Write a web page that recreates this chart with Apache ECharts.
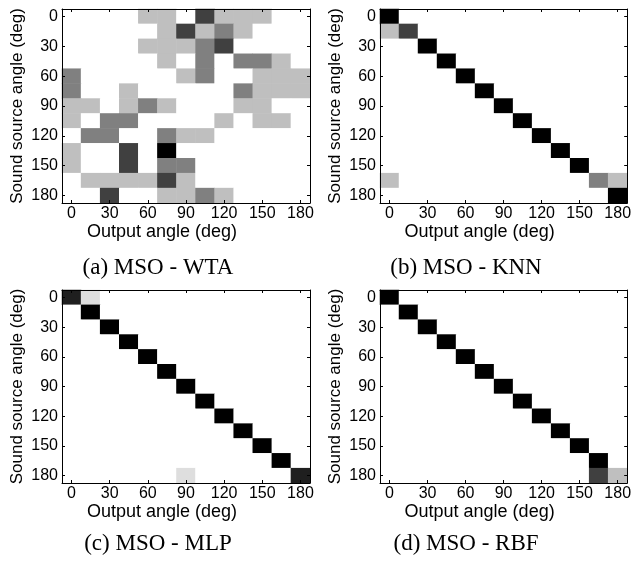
<!DOCTYPE html>
<html>
<head>
<meta charset="utf-8">
<script src="https://cdn.jsdelivr.net/npm/echarts@6/dist/echarts.min.js"></script>
<style>
html,body{margin:0;padding:0;background:#fff;}
#chart{width:634px;height:563px;}
</style>
</head>
<body>
<div id="chart"></div>
<script>
// Angle categories (deg)
const angles = ['0','15','30','45','60','75','90','105','120','135','150','165','180'];

// Confusion matrices: rows = sound source angle, columns = output angle (fraction, 0=white, 1=black)
const wtaRows = [
  [0,0,0,0,.25,.25,0,.75,.25,.25,.25,0,0],
  [0,0,0,0,0,.25,.75,.25,.5,.25,0,0,0],
  [0,0,0,0,.25,.25,.25,.5,.75,0,0,0,0],
  [0,0,0,0,0,.25,0,.5,0,.5,.5,.25,0],
  [.5,0,0,0,0,0,.25,.5,0,0,.25,.25,.25],
  [.5,0,0,.25,0,0,0,0,0,.5,.25,.25,.25],
  [.25,.25,0,.25,.5,.25,0,0,0,.25,.25,0,0],
  [.25,0,.5,.5,0,0,0,0,.25,0,.25,.25,0],
  [0,.5,.5,0,0,.5,.25,.25,0,0,0,0,0],
  [.25,0,0,.75,0,1,0,0,0,0,0,0,0],
  [.25,0,0,.75,0,.5,.5,0,0,0,0,0,0],
  [0,.25,.25,.25,.25,.75,.25,0,0,0,0,0,0],
  [0,0,.75,0,0,.25,.25,.5,.25,0,0,0,0]
];
const knnRows = [
  [1,0,0,0,0,0,0,0,0,0,0,0,0],
  [.25,.75,0,0,0,0,0,0,0,0,0,0,0],
  [0,0,1,0,0,0,0,0,0,0,0,0,0],
  [0,0,0,1,0,0,0,0,0,0,0,0,0],
  [0,0,0,0,1,0,0,0,0,0,0,0,0],
  [0,0,0,0,0,1,0,0,0,0,0,0,0],
  [0,0,0,0,0,0,1,0,0,0,0,0,0],
  [0,0,0,0,0,0,0,1,0,0,0,0,0],
  [0,0,0,0,0,0,0,0,1,0,0,0,0],
  [0,0,0,0,0,0,0,0,0,1,0,0,0],
  [0,0,0,0,0,0,0,0,0,0,1,0,0],
  [.25,0,0,0,0,0,0,0,0,0,0,.5,.25],
  [0,0,0,0,0,0,0,0,0,0,0,0,1]
];
const mlpRows = [
  [.88,.13,0,0,0,0,0,0,0,0,0,0,0],
  [0,1,0,0,0,0,0,0,0,0,0,0,0],
  [0,0,1,0,0,0,0,0,0,0,0,0,0],
  [0,0,0,1,0,0,0,0,0,0,0,0,0],
  [0,0,0,0,1,0,0,0,0,0,0,0,0],
  [0,0,0,0,0,1,0,0,0,0,0,0,0],
  [0,0,0,0,0,0,1,0,0,0,0,0,0],
  [0,0,0,0,0,0,0,1,0,0,0,0,0],
  [0,0,0,0,0,0,0,0,1,0,0,0,0],
  [0,0,0,0,0,0,0,0,0,1,0,0,0],
  [0,0,0,0,0,0,0,0,0,0,1,0,0],
  [0,0,0,0,0,0,0,0,0,0,0,1,0],
  [0,0,0,0,0,0,.13,0,0,0,0,0,.88]
];
const rbfRows = [
  [1,0,0,0,0,0,0,0,0,0,0,0,0],
  [0,1,0,0,0,0,0,0,0,0,0,0,0],
  [0,0,1,0,0,0,0,0,0,0,0,0,0],
  [0,0,0,1,0,0,0,0,0,0,0,0,0],
  [0,0,0,0,1,0,0,0,0,0,0,0,0],
  [0,0,0,0,0,1,0,0,0,0,0,0,0],
  [0,0,0,0,0,0,1,0,0,0,0,0,0],
  [0,0,0,0,0,0,0,1,0,0,0,0,0],
  [0,0,0,0,0,0,0,0,1,0,0,0,0],
  [0,0,0,0,0,0,0,0,0,1,0,0,0],
  [0,0,0,0,0,0,0,0,0,0,1,0,0],
  [0,0,0,0,0,0,0,0,0,0,0,1,0],
  [0,0,0,0,0,0,0,0,0,0,0,.75,.25]
];
const captions = ['(a) MSO - WTA','(b) MSO - KNN','(c) MSO - MLP','(d) MSO - RBF'];
const xTitle = 'Output angle (deg)';
const yTitle = 'Sound source angle (deg)';

const matrices = [wtaRows, knnRows, mlpRows, rbfRows];
const grids = [
  {left:62, top:9, width:248, height:194},
  {left:380, top:9, width:248, height:194},
  {left:62, top:290, width:248, height:193},
  {left:380, top:290, width:248, height:193}
];
const captionPos = [[158,268],[466,268],[158,544],[466,544]];

const sans = '"Liberation Sans", Arial, Helvetica, sans-serif';
const serif = '"Liberation Serif", "Times New Roman", serif';

const xAxes = [], yAxes = [], series = [], graphics = [];
matrices.forEach((m, i) => {
  const common = {
    type:'category', data: angles, gridIndex:i, z:5,
    axisLine:{show:true, onZero:false, lineStyle:{color:'#000', width:1}},
    axisTick:{show:true, inside:true, length:3, interval:1, alignWithLabel:true, lineStyle:{color:'#000'}},
    splitLine:{show:false}
  };
  xAxes.push(Object.assign({}, common, {
    position:'bottom',
    axisLabel:{show:true, interval:1, margin:3, color:'#000', fontSize:16, fontFamily:sans},
    name:xTitle, nameLocation:'middle', nameGap:18,
    nameTextStyle:{color:'#000', fontSize:18, fontFamily:sans, padding:[0,48,0,0]}
  }));
  xAxes.push(Object.assign({}, common, {position:'top', axisLabel:{show:false}}));
  yAxes.push(Object.assign({}, common, {
    position:'left', inverse:true,
    axisLabel:{show:true, interval:1, margin:4, color:'#000', fontSize:16, fontFamily:sans},
    name:yTitle, nameLocation:'middle', nameGap:36,
    nameTextStyle:{color:'#000', fontSize:17, fontFamily:sans}
  }));
  yAxes.push(Object.assign({}, common, {position:'right', inverse:true, axisLabel:{show:false}}));
  const data = [];
  m.forEach((row, r) => row.forEach((v, c) => data.push([c, r, v])));
  series.push({
    type:'heatmap', xAxisIndex:2*i, yAxisIndex:2*i, data:data,
    itemStyle:{borderWidth:0}, emphasis:{disabled:true}, silent:true
  });
  graphics.push({
    type:'text', x:captionPos[i][0], y:captionPos[i][1],
    style:{text:captions[i], font:'23px ' + serif, fill:'#000', textAlign:'center', textVerticalAlign:'middle'}
  });
});

const chart = echarts.init(document.getElementById('chart'), null, {renderer:'canvas'});
chart.setOption({
  animation:false,
  backgroundColor:'#fff',
  grid: grids.map(g => Object.assign({containLabel:false}, g)),
  xAxis: xAxes,
  yAxis: yAxes,
  visualMap: [{
    type:'continuous', min:0, max:1, show:false,
    seriesIndex:[0,1,2,3],
    inRange:{color:['#ffffff','#000000']}
  }],
  series: series,
  graphic: graphics
});
</script>
</body>
</html>
